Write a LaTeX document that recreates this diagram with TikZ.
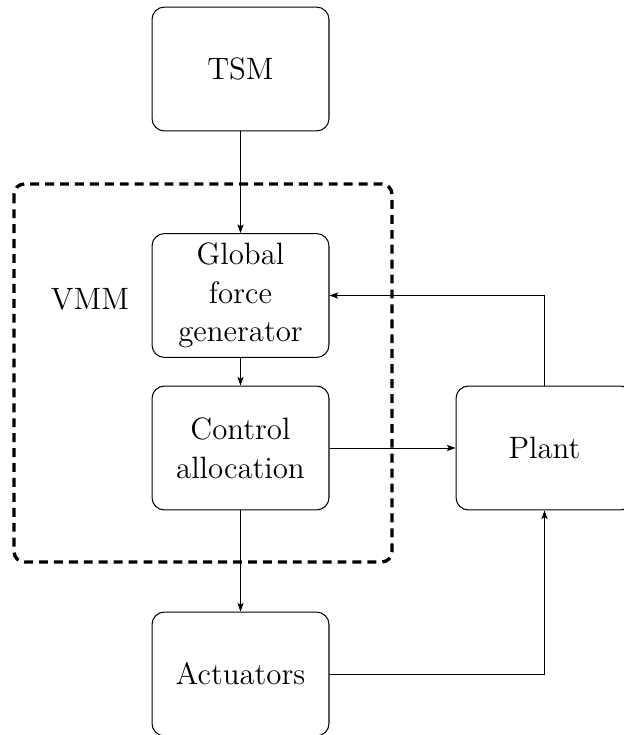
\documentclass[tikz,border=0pt]{standalone}
\usetikzlibrary{arrows.meta}
\begin{document}
\begin{tikzpicture}[x=0.016949cm, y=-0.016949cm,
  txt/.style={font=\fontsize{14.9}{18.6}\selectfont},
  block/.style={draw, rounded corners=6pt, minimum width=3cm, minimum height=2.1cm,
    align=center, txt, line width=0.5pt},
  flow/.style={-{Stealth[length=4.2pt, width=3pt, inset=1pt]}, line width=0.45pt},
  groupbox/.style={draw, line width=1.6pt, dash pattern=on 4.3pt off 2.9pt, rounded corners=5pt}]
  \useasboundingbox (0,0) rectangle (623,735);

  % dashed grouping of the vehicle motion module
  \draw[groupbox] (14,184) rectangle (392,562);
  \node[txt] (vmm) at (90,299) {VMM};

  % blocks
  \node[block] (tsm) at (240.5,69) {TSM};
  \node[block] (gfg) at (240.5,295.5) {Global\\force\\generator};
  \node[block] (ca) at (240.5,448) {Control\\allocation};
  \node[block] (act) at (240.5,674) {Actuators};
  \node[block] (plant) at (544.5,448) {Plant};

  % signal flow
  \draw[flow] (tsm) -- (gfg);
  \draw[flow] (gfg) -- (ca);
  \draw[flow] (ca) -- (act);
  \draw[flow] (ca) -- (plant);
  \draw[flow] (act.east) -| (plant.south);
  \draw[flow] (plant.north) |- (gfg.east);
\end{tikzpicture}
\end{document}
